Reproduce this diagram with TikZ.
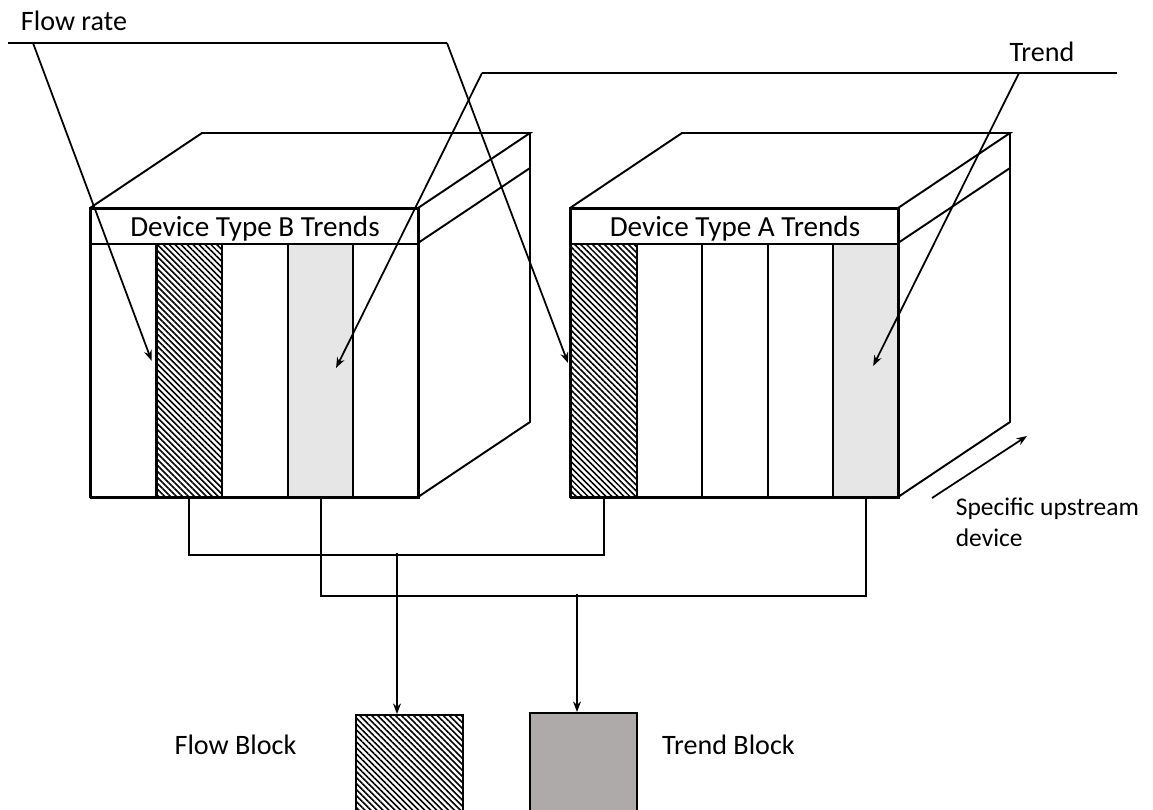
\documentclass[tikz,border=0pt]{standalone}
\usepackage{fontspec}
\setmainfont{Carlito}
\usetikzlibrary{arrows.meta,patterns.meta,calc,positioning}
\definecolor{colgray}{RGB}{230,230,230}
\definecolor{trendgray}{RGB}{174,170,170}

\begin{document}
\begin{tikzpicture}[>={Stealth[length=6pt,width=4.5pt]},
    font=\fontsize{16}{19}\selectfont, line width=1.1pt,
    hatch/.style={pattern={Lines[angle=-45,distance=2.4pt,line width=0.9pt]}},
    column/.style={draw, line width=1.1pt, minimum width=1.312cm,
      minimum height=5.08cm, inner sep=0pt, anchor=north west},
    flowcol/.style={column, hatch},
    trendcol/.style={column, fill=colgray},
    plaincol/.style={column, fill=white},
    header/.style={draw, fill=white, minimum width=6.56cm, minimum height=0.7cm,
      inner sep=0pt, text depth=0pt, anchor=north west,
      font=\fontsize{16.6}{19}\selectfont},
    pointer/.style={->, line width=1pt},
    block/.style={draw, line width=1.3pt, minimum width=2.14cm,
      minimum height=2.3cm, inner sep=0pt, anchor=north west}]

  \clip (0,0) rectangle (23.06,-16.18);

  % ============================================================
  % LEFT BOX: Device Type B
  % ============================================================
  \begin{scope}[shift={(1.8,-4.16)}]
    % top and side faces
    \draw (0,0) -- (2.24,1.5) -- (8.8,1.5) -- (6.56,0);
    \draw (6.56,-0.7) -- (8.8,0.8);
    \draw (8.8,1.5) -- (8.8,-4.28) -- (6.56,-5.78);

    % header band
    \node[header] (Bhead) at (0,0) {Device Type B Trends};

    % columns
    \foreach \i/\sty in {1/plaincol, 2/flowcol, 3/plaincol, 4/trendcol, 5/plaincol}
      \node[\sty] (B\i) at ({(\i-1)*1.312},-0.7) {};

    % front frame
    \draw[line width=1.5pt] (0,0) rectangle (6.56,-5.78);
  \end{scope}

  % ============================================================
  % RIGHT BOX: Device Type A
  % ============================================================
  \begin{scope}[shift={(11.4,-4.16)}]
    % top and side faces
    \draw (0,0) -- (2.24,1.5) -- (8.8,1.5) -- (6.56,0);
    \draw (6.56,-0.7) -- (8.8,0.8);
    \draw (8.8,1.5) -- (8.8,-4.28) -- (6.56,-5.78);

    % header band
    \node[header] (Ahead) at (0,0) {Device Type A Trends};

    % columns
    \foreach \i/\sty in {1/flowcol, 2/plaincol, 3/plaincol, 4/plaincol, 5/trendcol}
      \node[\sty] (A\i) at ({(\i-1)*1.312},-0.7) {};

    % front frame
    \draw[line width=1.5pt] (0,0) rectangle (6.56,-5.78);
  \end{scope}

  % ============================================================
  % CALLOUTS
  % ============================================================
  % Flow rate
  \node (flowlbl) at (1.48,-0.42) {Flow rate};
  \coordinate (flowL) at (0.16,-0.86);
  \coordinate (flowK1) at (0.66,-0.86);
  \coordinate (flowK2) at (8.94,-0.86);
  \draw (flowL) -- (flowK2);
  \draw[pointer] (flowK1) -- ($(B2.west)+(-0.08,0.2)$);
  \draw[pointer] (flowK2) -- ($(A1.west)+(-0.04,0.16)$);

  % Trend
  \node (trendlbl) at (20.84,-1.04) {Trend};
  \coordinate (trendL) at (9.64,-1.46);
  \coordinate (trendK) at (20.38,-1.46);
  \coordinate (trendR) at (22.34,-1.46);
  \draw (trendL) -- (trendR);
  \draw[pointer] (trendL) -- ($(B4.center)+(0.31,0.06)$);
  \draw[pointer] (trendK) -- ($(A5.center)+(0.14,0.1)$);

  % Upstream direction
  \coordinate (upA) at (18.64,-9.96);
  \coordinate (upB) at (20.54,-8.72);
  \draw[pointer] (upA) -- (upB);
  \node[align=left, anchor=west, font=\fontsize{14.5}{17.6}\selectfont]
    (upstream) at (18.98,-10.44) {Specific upstream\\device};

  % ============================================================
  % OUTPUT BLOCKS
  % ============================================================
  \node[block, hatch] (flowblk) at (7.1,-14.28) {};
  \node[block, fill=trendgray] (trendblk) at (10.58,-14.24) {};
  \node (flowtxt) at (4.71,-14.9) {Flow Block};
  \node (trendtxt) at (14.57,-14.9) {Trend Block};

  % collecting lines
  \draw (B2.south) -- ++(0,-1.12) -| (A1.south);
  \draw (B4.south) -- ++(0,-1.94) -| (A5.south);
  \coordinate (flowtap) at (7.94,-11.06);
  \coordinate (trendtap) at (11.54,-11.88);
  \draw[pointer] (flowtap) -- (flowtap |- flowblk.north);
  \draw[pointer] (trendtap) -- (trendtap |- trendblk.north);

\end{tikzpicture}
\end{document}
